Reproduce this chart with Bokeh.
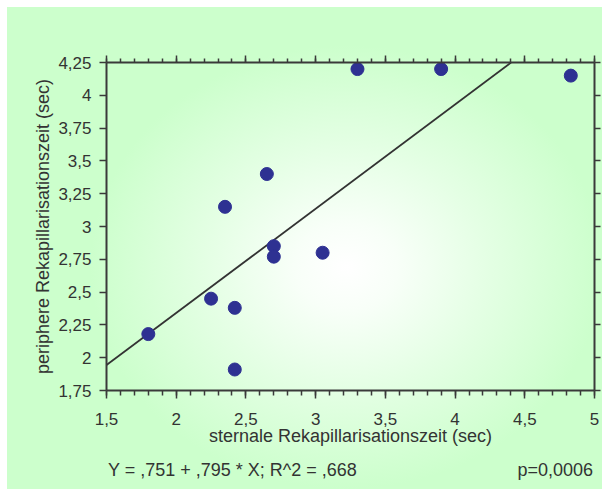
from bokeh.plotting import figure
from bokeh.models import LinearAxis, FixedTicker, Range1d, CustomJSTickFormatter, Div
from bokeh.layouts import column
from bokeh.embed import file_html
from bokeh.resources import INLINE

# data
sternal = [1.80, 2.25, 2.35, 2.42, 2.42, 2.65, 2.70, 2.70, 3.05, 3.30, 3.90, 4.83]
peripher = [2.18, 2.45, 3.15, 2.38, 1.91, 3.40, 2.85, 2.77, 2.80, 4.20, 4.20, 4.15]
fit_a = 0.751
fit_b = 0.795
x_ticks = [1.5, 2.0, 2.5, 3.0, 3.5, 4.0, 4.5, 5.0]
x_labels = ["1,5", "2", "2,5", "3", "3,5", "4", "4,5", "5"]
x_minor = [round(1.5 + 0.1 * i, 2) for i in range(36)]
y_ticks = [1.75, 2.0, 2.25, 2.5, 2.75, 3.0, 3.25, 3.5, 3.75, 4.0, 4.25]
y_labels = ["1,75", "2", "2,25", "2,5", "2,75", "3", "3,25", "3,5", "3,75", "4", "4,25"]
x_title = "sternale Rekapillarisationszeit (sec)"
y_title = "periphere Rekapillarisationszeit (sec)"
eq_text = "Y = ,751 + ,795 * X; R^2 = ,668"
p_text = "p=0,0006"

FONT = "Liberation Sans"
TXT = "#333333"
AX = "#3a3a3a"

bg = ("radial-gradient(ellipse closest-side at 57% 54%, #ffffff 0%, #f8fff8 20%, #e4ffe4 55%, #ccffcc 100%) "
      "7px 7px / 595px 482px no-repeat, #ffffff")

FIG_H = 456

p = figure(width=605, height=FIG_H, output_backend="svg", toolbar_location=None,
           x_range=Range1d(1.5, 5.0), y_range=Range1d(1.75, 4.25),
           x_axis_location=None, y_axis_location=None,
           min_border_left=106, min_border_right=11, min_border_top=62,
           min_border_bottom=FIG_H - 390)
p.border_fill_color = None
p.background_fill_color = None
p.outline_line_color = None
p.xgrid.visible = False
p.ygrid.visible = False

xt = FixedTicker(ticks=x_ticks, minor_ticks=x_minor)
yt = FixedTicker(ticks=y_ticks, minor_ticks=[])
blank = CustomJSTickFormatter(code="return ''")


def style_axis(ax, major_out, minor_out):
    ax.axis_line_color = AX
    ax.axis_line_width = 2
    ax.major_tick_line_color = AX
    ax.major_tick_line_width = 1.5
    ax.minor_tick_line_color = AX
    ax.minor_tick_line_width = 1.5
    ax.major_tick_out = major_out
    ax.major_tick_in = 0
    ax.minor_tick_out = minor_out
    ax.minor_tick_in = 0
    ax.major_label_text_font = FONT
    ax.major_label_text_font_size = "17px"
    ax.major_label_text_color = TXT
    ax.axis_label_text_font = FONT
    ax.axis_label_text_font_size = "18px"
    ax.axis_label_text_font_style = "normal"
    ax.axis_label_text_color = TXT


bottom = LinearAxis(ticker=xt, major_label_overrides=dict(zip(x_ticks, x_labels)),
                    axis_label=x_title)
style_axis(bottom, 8, 5)
bottom.major_label_standoff = 14
bottom.axis_label_standoff = -2
p.add_layout(bottom, "below")

top = LinearAxis(ticker=xt, formatter=blank)
style_axis(top, 7, 4)
top.major_label_standoff = 0
p.add_layout(top, "above")

left = LinearAxis(ticker=yt, major_label_overrides=dict(zip(y_ticks, y_labels)),
                  axis_label=y_title)
style_axis(left, 7, 0)
left.major_label_standoff = 8
left.axis_label_standoff = 2
p.add_layout(left, "left")

right = LinearAxis(ticker=yt, formatter=blank)
style_axis(right, 6, 0)
right.major_label_standoff = 0
p.add_layout(right, "right")

# regression line within the frame
x0 = x_ticks[0]
x1 = (y_ticks[-1] - fit_a) / fit_b
p.line([x0, x1], [fit_a + fit_b * x0, fit_a + fit_b * x1], line_color="#333333", line_width=1.8)

p.scatter(sternal, peripher, size=13, fill_color="#2e3192", line_color="#2e3192")

note = Div(
    text=(f'<div style="display:flex;justify-content:space-between;box-sizing:border-box;'
          f'width:605px;padding:4px 12px 0 108px;font-family:\'{FONT}\';font-size:18px;'
          f'line-height:20px;color:{TXT};">'
          f'<span>{eq_text}</span><span>{p_text}</span></div>'),
    width=605, height=498 - FIG_H, margin=0)

layout = column(p, note, width=605, height=498, spacing=0, styles={"background": bg})

open("out.html", "w").write(file_html(layout, INLINE))
